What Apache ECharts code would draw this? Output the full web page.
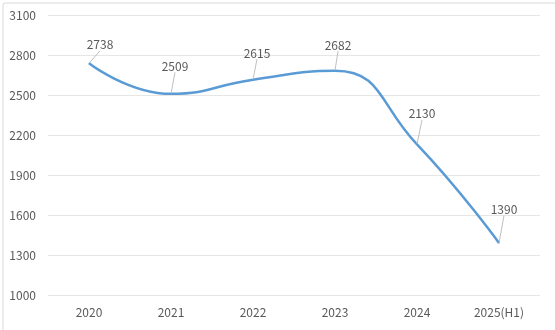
<!DOCTYPE html>
<html>
<head>
<meta charset="utf-8">
<script src="https://cdn.jsdelivr.net/npm/echarts@6/dist/echarts.min.js"></script>
<style>
html,body{margin:0;padding:0;background:#fff;}
#c{width:555px;height:330px;}
</style>
</head>
<body>
<div id="c"></div>
<script>
const categories = ['2020', '2021', '2022', '2023', '2024', '2025(H1)'];
const values = [2738, 2509, 2615, 2682, 2130, 1390];
const yMin = 1000, yMax = 3100, yStep = 300;

// label offsets (layout only)
const labelDx = [11, 4, 4, 3, 5, 5];
const labelDy = [-7, -16, -15, -14, -19, -22];

const FONT = '"Noto Sans CJK KR", "Noto Sans", sans-serif';
const chart = echarts.init(document.getElementById('c'), null, {renderer: 'canvas'});
chart.setOption({
  animation: false,
  backgroundColor: '#fff',
  graphic: [{
    type: 'rect', left: 0.5, top: 0.5, silent: true,
    shape: {width: 553, height: 328, r: 2},
    style: {fill: 'none', stroke: '#D9D9D9', lineWidth: 1}
  }],
  grid: {left: 48, right: 15, top: 15, bottom: 35},
  xAxis: {
    type: 'category', data: categories, boundaryGap: true,
    axisLine: {show: false}, axisTick: {show: false},
    axisLabel: {color: '#595959', fontSize: 12, fontFamily: FONT, margin: 11}
  },
  yAxis: {
    type: 'value', min: yMin, max: yMax, interval: yStep,
    axisLine: {show: false}, axisTick: {show: false},
    axisLabel: {color: '#595959', fontSize: 12, fontFamily: FONT, margin: 12,
      formatter: function (v) { return String(v); }},
    splitLine: {lineStyle: {color: '#E6E6E6', width: 1}}
  },
  series: [{
    type: 'line', data: values, smooth: 0.5,
    symbol: 'circle', symbolSize: 1, showSymbol: true,
    itemStyle: {color: '#5B9BD5'},
    lineStyle: {color: '#5B9BD5', width: 2.5},
    label: {show: true, position: 'top', distance: 5, color: '#595959', fontSize: 12, fontFamily: FONT},
    labelLine: {show: true, lineStyle: {color: '#BFBFBF', width: 1}},
    labelLayout: function (p) { return {dx: labelDx[p.dataIndex], dy: labelDy[p.dataIndex]}; }
  }]
});
</script>
</body>
</html>
